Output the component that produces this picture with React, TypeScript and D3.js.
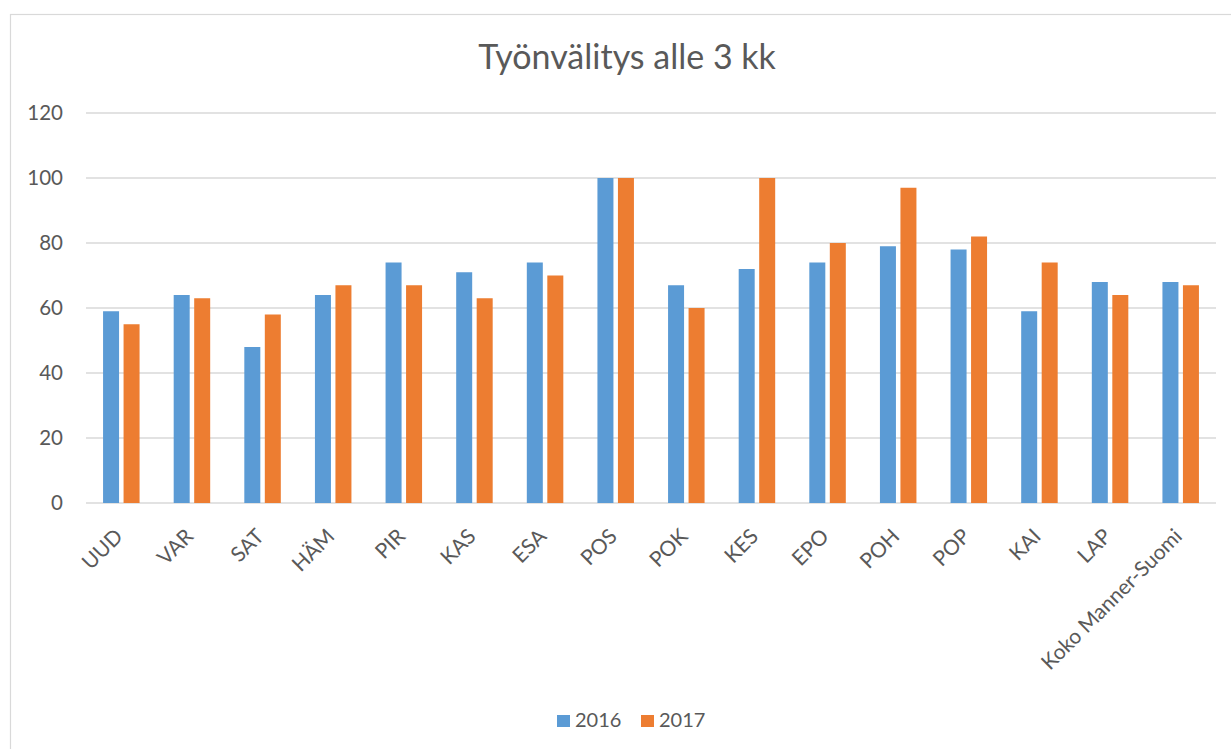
import React from "react";
import * as d3 from "d3";

const categories = ["UUD", "VAR", "SAT", "HÄM", "PIR", "KAS", "ESA", "POS", "POK", "KES", "EPO", "POH", "POP", "KAI", "LAP", "Koko Manner-Suomi"];
const values2016 = [59, 64, 48, 64, 74, 71, 74, 100, 67, 72, 74, 79, 78, 59, 68, 68];
const values2017 = [55, 63, 58, 67, 67, 63, 70, 100, 60, 100, 80, 97, 82, 74, 64, 67];
const seriesNames = ["2016", "2017"];
const yTicks = [0, 20, 40, 60, 80, 100, 120];
const colors = ["#5B9BD5", "#ED7D31"];
const title = "Työnvälitys alle 3 kk";

const W = 1231;
const H = 749;
const FONT = "Lato, 'Open Sans', sans-serif";

export default function App() {
  const x0 = 86, x1 = 1216, yTop = 113, yBot = 503;
  const x = d3.scaleBand<string>().domain(categories).range([x0, x1]);
  const y = d3.scaleLinear().domain([0, 120]).range([yBot, yTop]);
  const barW = 16;
  const gap = 4.5;
  const series = [values2016, values2017];

  return (
    <div style={{ position: "absolute", left: 0, top: 0 }}>
      <svg width={W} height={H} style={{ display: "block", background: "#fff" }}>
        <rect x={10.5} y={14.5} width={1240} height={760} fill="#fff" stroke="#d9d9d9" strokeWidth={1.2} />
        <text x={627} y={69} textAnchor="middle" fontFamily={FONT} fontSize={34} fill="#595959">{title}</text>
        {yTicks.map((t) => (
          <g key={t}>
            <line x1={x0} x2={x1} y1={y(t)} y2={y(t)} stroke="#d9d9d9" strokeWidth={1.5} />
            <text x={63} y={y(t)} dy="0.35em" textAnchor="end" fontFamily={FONT} fontSize={20.5} fill="#595959">{t}</text>
          </g>
        ))}
        {categories.map((c, i) => {
          const cx = (x(c) as number) + x.bandwidth() / 2;
          return (
            <g key={c}>
              {series.map((s, k) => {
                const bx = k === 0 ? cx - gap / 2 - barW : cx + gap / 2;
                return (
                  <rect key={k} x={bx} y={y(s[i])} width={barW} height={yBot - y(s[i])} fill={colors[k]} />
                );
              })}
              <text
                transform={`translate(${cx - 8},${527}) rotate(-45)`}
                textAnchor="end"
                fontFamily={FONT}
                fontSize={21}
                fill="#595959"
                dy="0.72em"
              >
                {c}
              </text>
            </g>
          );
        })}
        {seriesNames.map((n, k) => {
          const lx = k === 0 ? 557 : 641;
          return (
            <g key={n}>
              <rect x={lx} y={715} width={13} height={12} fill={colors[k]} />
              <text x={lx + 18} y={727} fontFamily={FONT} fontSize={20} fill="#595959">{n}</text>
            </g>
          );
        })}
      </svg>
    </div>
  );
}
